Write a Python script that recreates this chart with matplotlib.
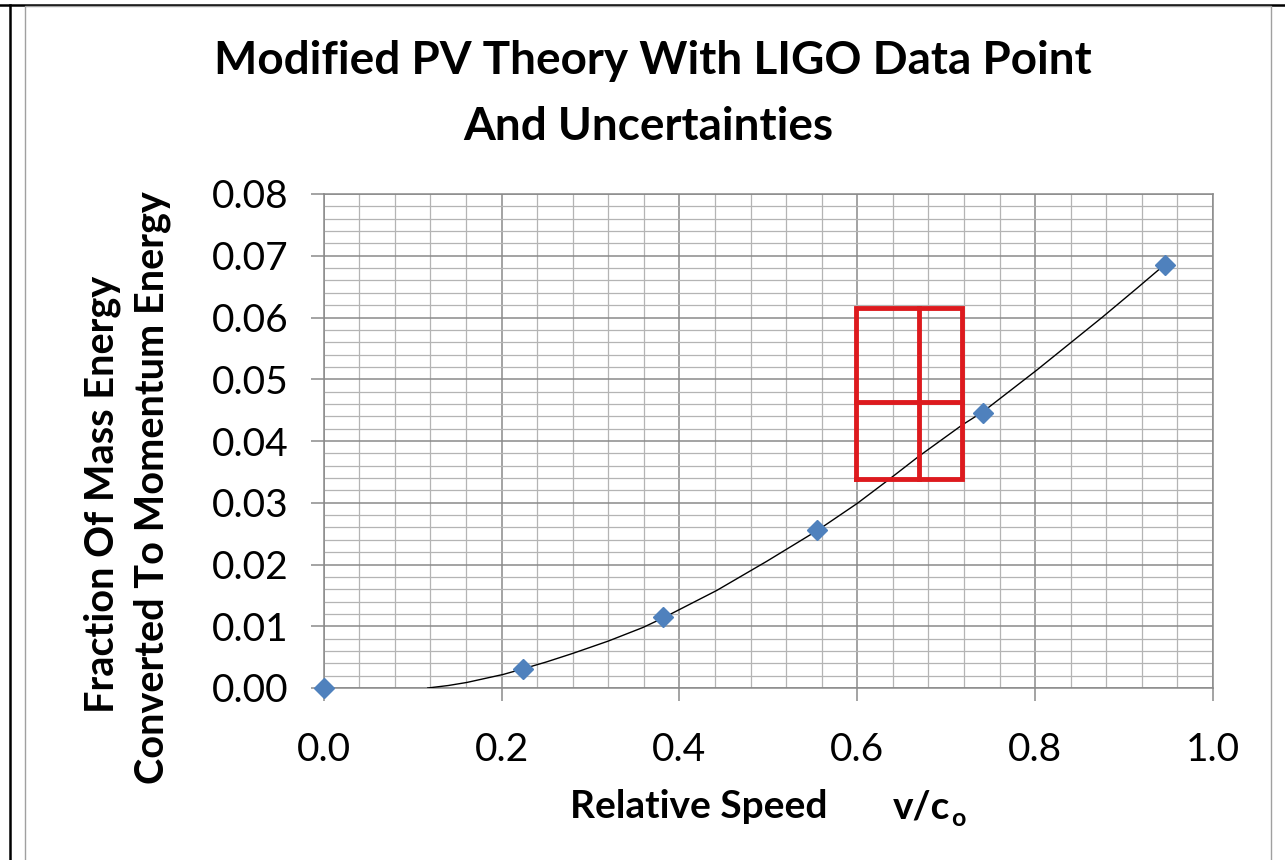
import matplotlib
matplotlib.use("Agg")
import matplotlib.pyplot as plt
from matplotlib.lines import Line2D
from matplotlib.ticker import MultipleLocator, FormatStrFormatter

plt.rcParams['font.family'] = ['Lato', 'DejaVu Sans']

# ---- data ----
speed_points = [0.0, 0.224, 0.381, 0.555, 0.741, 0.946]
fraction_points = [0.0, 0.0031, 0.0115, 0.0256, 0.0445, 0.0685]

theory_speed = [0.117, 0.140, 0.161, 0.202, 0.224, 0.250, 0.280, 0.320, 0.359, 0.381, 0.442,
                0.498, 0.555, 0.600, 0.635, 0.669, 0.718, 0.741, 0.802, 0.876, 0.915, 0.946]
theory_fraction = [0.0, 0.0004, 0.0009, 0.0022, 0.0031, 0.0042, 0.0056, 0.0076, 0.0098,
                   0.0113, 0.0158, 0.0205, 0.0255, 0.0299, 0.0337, 0.0375, 0.0426, 0.0447,
                   0.0515, 0.0601, 0.0648, 0.0686]

ligo_speed = 0.669
ligo_speed_low = 0.599
ligo_speed_high = 0.718
ligo_fraction = 0.0463
ligo_fraction_low = 0.0338
ligo_fraction_high = 0.0616

x_ticks = [0.0, 0.2, 0.4, 0.6, 0.8, 1.0]
y_ticks = [0.00, 0.01, 0.02, 0.03, 0.04, 0.05, 0.06, 0.07, 0.08]

W, H = 1285, 860
fig = plt.figure(figsize=(W / 100, H / 100), dpi=100)

def fx(px):
    return px / W

def fy(py):
    return 1 - py / H

ax = fig.add_axes([fx(323.7), fy(688), fx(1213) - fx(323.7), fy(194) - fy(688)])

major_c = '#8a8a8a'
minor_c = '#b4b4b4'

ax.set_xlim(x_ticks[0], x_ticks[-1])
ax.set_ylim(y_ticks[0], y_ticks[-1])
ax.set_xticks(x_ticks)
ax.set_yticks(y_ticks)
ax.xaxis.set_major_formatter(FormatStrFormatter('%.1f'))
ax.yaxis.set_major_formatter(FormatStrFormatter('%.2f'))
ax.xaxis.set_minor_locator(MultipleLocator(0.04))
ax.yaxis.set_minor_locator(MultipleLocator(0.002))
ax.grid(which='major', color=major_c, lw=1.1)
ax.grid(which='minor', color=minor_c, lw=0.9)
ax.set_axisbelow(True)
ax.tick_params(which='major', length=9.5, width=1.1, color=major_c,
               labelsize=28, direction='out')
ax.tick_params(which='minor', length=0)
ax.tick_params(axis='y', pad=16)
ax.tick_params(axis='x', pad=22)
for s in ax.spines.values():
    s.set_color(major_c)
    s.set_linewidth(1.1)

# theory curve
ax.plot(theory_speed, theory_fraction, color='black', lw=1.0, zorder=3)

# data points
ax.plot(speed_points, fraction_points, linestyle='none', marker='D', ms=10.5,
        color='#4F81BD', markeredgecolor='#4F81BD', zorder=4, clip_on=False)

# LIGO point with uncertainty box
red = '#DD1A1E'
box_x = [ligo_speed_low, ligo_speed_high, ligo_speed_high, ligo_speed_low, ligo_speed_low]
box_y = [ligo_fraction_low, ligo_fraction_low, ligo_fraction_high, ligo_fraction_high, ligo_fraction_low]
ax.plot(box_x, box_y, color=red, lw=3.5, zorder=5, solid_joinstyle='miter')
ax.plot([ligo_speed, ligo_speed], [ligo_fraction_low, ligo_fraction_high], color=red, lw=3.5, zorder=5)
ax.plot([ligo_speed_low, ligo_speed_high], [ligo_fraction, ligo_fraction], color=red, lw=3.5, zorder=5)

# titles and labels
fig.text(fx(653), fy(74), 'Modified PV Theory With LIGO Data Point', ha='center', va='baseline',
         fontsize=33, fontweight='bold')
fig.text(fx(648), fy(140), 'And Uncertainties', ha='center', va='baseline',
         fontsize=33, fontweight='bold')

fig.text(fx(102), fy(494), 'Fraction Of Mass Energy', rotation=90, ha='center', va='center',
         fontsize=28.5, fontweight='bold')
fig.text(fx(152), fy(488), 'Converted To Momentum Energy', rotation=90, ha='center', va='center',
         fontsize=28.5, fontweight='bold')

fig.text(fx(570), fy(818), 'Relative Speed', ha='left', va='baseline', fontsize=28, fontweight='bold')
vc = fig.text(fx(893), fy(818), 'v/c', ha='left', va='baseline', fontsize=28, fontweight='bold')
fig.canvas.draw()
bb = vc.get_window_extent(renderer=fig.canvas.get_renderer())
fig.text(bb.x1 / W + 1 / W, fy(826), 'o', ha='left', va='baseline', fontsize=18, fontweight='bold')

# frames
fig.add_artist(Line2D([0, 1], [fy(5), fy(5)], transform=fig.transFigure, color='black', lw=1.8))
fig.add_artist(Line2D([fx(10), fx(10)], [0, fy(5)], transform=fig.transFigure, color='black', lw=1.8))
fig.add_artist(Line2D([fx(25), fx(25), fx(1271), fx(1271)], [0, fy(6), fy(6), 0],
                      transform=fig.transFigure, color='#a0a0a0', lw=1.0))

fig.savefig('out.png', dpi=100)
